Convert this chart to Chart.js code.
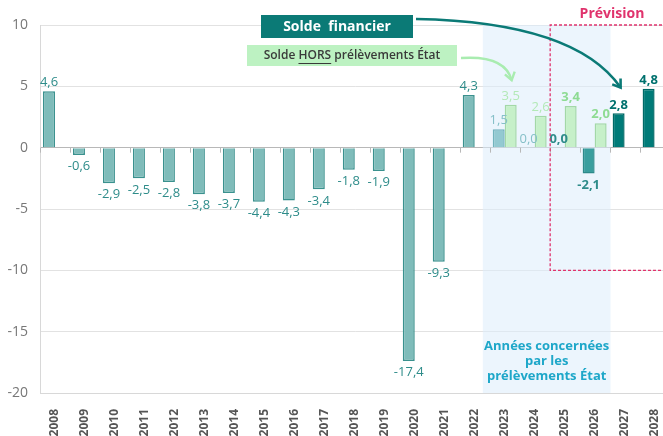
<!DOCTYPE html>
<html>
<head>
<meta charset="utf-8">
<script src="https://cdn.jsdelivr.net/npm/chart.js@4"></script>
<style>
  html, body { margin: 0; padding: 0; background: #fff; overflow: hidden; }
  #wrap { width: 677px; height: 436px; }
</style>
</head>
<body>
<div id="wrap"><canvas id="chart" width="677" height="436"></canvas></div>
<script>
// --- Data ---
const years = ['2008', '2009', '2010', '2011', '2012', '2013', '2014', '2015', '2016', '2017',
    '2018', '2019', '2020', '2021', '2022', '2023', '2024', '2025', '2026', '2027', '2028'];

// Solde financier
const soldeFinancier = [4.6, -0.6, -2.9, -2.5, -2.8, -3.8, -3.7, -4.4, -4.3, -3.4,
    -1.8, -1.9, -17.4, -9.3, 4.3, 1.5, 0.0, 0.0, -2.1, 2.8, 4.8];

// Solde HORS prélèvements État
const soldeHors = [null, null, null, null, null, null, null, null, null, null,
    null, null, null, null, null, 3.5, 2.6, 3.4, 2.0, null, null];

const yTicks = [10, 5, 0, -5, -10, -15, -20];

// --- Styles ---
const FONT = "'Open Sans', sans-serif";
const histFill = '#7fbcba', histBorder = '#3a918e', histLabel = '#2e8c8a';

const mainFill = years.map((y, i) => {
    if (i <= 14) return histFill;
    if (y === '2023' || y === '2024') return '#93c9d1';
    if (y === '2025' || y === '2026') return '#3a9e9e';
    return '#007b78';
});
const mainBorder = years.map((y, i) => {
    if (i <= 14) return histBorder;
    if (y === '2023' || y === '2024') return '#72b3bd';
    if (y === '2025' || y === '2026') return '#2d8a8a';
    return '#006a67';
});
const mainLabelColor = years.map((y, i) => {
    if (i <= 14) return histLabel;
    if (y === '2023' || y === '2024') return '#86c0c8';
    if (y === '2025' || y === '2026') return '#2f8c8a';
    return '#00716e';
});
const mainLabelBold = years.map((y, i) => i >= 17);

const horsLabelColor = years.map(y => (y === '2025' || y === '2026') ? '#8edb93' : '#b3e9b7');
const horsLabelBold = years.map(y => y === '2025' || y === '2026');

function fmt(v) {
    return v.toFixed(1).replace('.', ',');
}

// --- Plugins ---
const backgroundPlugin = {
    id: 'background',
    beforeDatasetsDraw(chart) {
        const { ctx, chartArea, scales: { x, y } } = chart;
        const w = (x.right - x.left) / years.length;
        // shaded zone: years concerned by the State levies
        const x0 = x.left + 14.77 * w;
        const x1 = x.left + 19.03 * w;
        ctx.save();
        ctx.fillStyle = 'rgba(221, 237, 252, 0.55)';
        ctx.fillRect(x0, chartArea.top, x1 - x0, chartArea.bottom - chartArea.top);

        // small ticks on the zero line
        const y0 = y.getPixelForValue(0);
        ctx.strokeStyle = '#b8b8b8';
        ctx.lineWidth = 1;
        ctx.beginPath();
        for (let i = 0; i <= years.length; i++) {
            const px = Math.round(x.left + i * w) + 0.5;
            ctx.moveTo(px, y0);
            ctx.lineTo(px, y0 + 5);
        }
        ctx.stroke();

        ctx.fillStyle = '#1ea7c9';
        ctx.font = 'bold 13px ' + FONT;
        ctx.textAlign = 'center';
        ctx.textBaseline = 'middle';
        const cx = (x0 + x1) / 2;
        const ty = y.getPixelForValue(-16.2);
        ctx.fillText('Années concernées', cx, ty);
        ctx.fillText('par les', cx, ty + 15);
        ctx.fillText('prélèvements État', cx, ty + 30);
        ctx.restore();
    }
};

const labelsPlugin = {
    id: 'valueLabels',
    afterDatasetsDraw(chart) {
        const { ctx } = chart;
        ctx.save();
        ctx.textAlign = 'center';
        chart.data.datasets.forEach((ds, di) => {
            const meta = chart.getDatasetMeta(di);
            meta.data.forEach((bar, i) => {
                const v = ds.data[i];
                if (v === null || v === undefined) return;
                const bold = di === 0 ? mainLabelBold[i] : horsLabelBold[i];
                ctx.fillStyle = di === 0 ? mainLabelColor[i] : horsLabelColor[i];
                ctx.font = (bold ? 'bold ' : '') + '13px ' + FONT;
                if (v >= 0) {
                    ctx.textBaseline = 'bottom';
                    ctx.fillText(fmt(v), bar.x, bar.y - 2);
                } else {
                    ctx.textBaseline = 'top';
                    ctx.fillText(fmt(v), bar.x, bar.y + 5);
                }
            });
        });
        ctx.restore();
    }
};

function arrow(ctx, sx, sy, cx, cy, ex, ey, color, lw) {
    ctx.strokeStyle = color;
    ctx.fillStyle = color;
    ctx.lineWidth = lw;
    ctx.beginPath();
    ctx.moveTo(sx, sy);
    ctx.quadraticCurveTo(cx, cy, ex, ey);
    ctx.stroke();
    const ang = Math.atan2(ey - cy, ex - cx);
    const len = 9;
    ctx.lineWidth = lw;
    ctx.beginPath();
    ctx.moveTo(ex - len * Math.cos(ang - 0.6), ey - len * Math.sin(ang - 0.6));
    ctx.lineTo(ex, ey);
    ctx.lineTo(ex - len * Math.cos(ang + 0.6), ey - len * Math.sin(ang + 0.6));
    ctx.stroke();
}

const annotationPlugin = {
    id: 'annotations',
    afterDraw(chart) {
        const { ctx, chartArea, scales: { x, y } } = chart;
        const w = (x.right - x.left) / years.length;
        ctx.save();

        // Prévision box
        const px0 = x.left + 17 * w + 0.5;
        const pyBottom = y.getPixelForValue(-10);
        ctx.strokeStyle = '#e0336d';
        ctx.lineWidth = 1.3;
        ctx.setLineDash([3, 2]);
        ctx.beginPath();
        ctx.moveTo(chart.width + 5, chartArea.top);
        ctx.lineTo(px0, chartArea.top);
        ctx.lineTo(px0, pyBottom);
        ctx.lineTo(chart.width + 5, pyBottom);
        ctx.stroke();
        ctx.setLineDash([]);
        ctx.fillStyle = '#e0336d';
        ctx.font = 'bold 14px ' + FONT;
        ctx.textAlign = 'center';
        ctx.textBaseline = 'middle';
        ctx.fillText('Prévision', 612, 14);

        // Solde financier label box
        ctx.fillStyle = '#0b7a76';
        ctx.fillRect(261, 15, 152, 23);
        ctx.fillStyle = '#ffffff';
        ctx.font = 'bold 14px ' + FONT;
        ctx.fillText('Solde  financier', 337, 27);

        // Solde HORS label box
        ctx.fillStyle = '#bdf2c2';
        ctx.fillRect(247, 45, 210, 21);
        ctx.fillStyle = '#3a3a3a';
        ctx.font = '600 12px ' + FONT;
        ctx.textAlign = 'left';
        const t1 = 'Solde ', t2 = 'HORS', t3 = ' prélèvements État';
        const wt = ctx.measureText(t1 + t2 + t3).width;
        let tx = 352 - wt / 2;
        ctx.fillText(t1, tx, 56);
        tx += ctx.measureText(t1).width;
        const w2 = ctx.measureText(t2).width;
        ctx.fillText(t2, tx, 56);
        ctx.fillRect(tx, 63, w2, 1);
        tx += w2;
        ctx.fillText(t3, tx, 56);

        // arrows
        const b2027 = chart.getDatasetMeta(0).data[19];
        arrow(ctx, 416, 19, 575, 22, b2027.x + 2, y.getPixelForValue(4.9),
            '#0b7a76', 2.6);
        const g2023 = chart.getDatasetMeta(1).data[15];
        arrow(ctx, 461, 58, 505, 55, g2023.x + 1, y.getPixelForValue(5.5),
            '#a9ecb0', 2.4);

        ctx.restore();
    }
};

// --- Chart ---
new Chart(document.getElementById('chart'), {
    type: 'bar',
    data: {
        labels: years,
        datasets: [{
            label: 'Solde financier',
            data: soldeFinancier,
            backgroundColor: mainFill,
            borderColor: mainBorder,
            borderWidth: 1.5,
            categoryPercentage: 0.8,
            barPercentage: 1.0
        }, {
            label: 'Solde HORS prélèvements État',
            data: soldeHors,
            backgroundColor: '#c6f0c9',
            borderColor: '#a3d8a7',
            borderWidth: 1.5,
            categoryPercentage: 0.8,
            barPercentage: 1.0
        }]
    },
    options: {
        responsive: false,
        animation: false,
        layout: { padding: { top: 25, right: 0, left: 0, bottom: 0 } },
        plugins: {
            legend: { display: false },
            tooltip: { enabled: false }
        },
        scales: {
            x: {
                grid: { display: false },
                border: { color: '#d8d8d8' },
                ticks: {
                    minRotation: 90,
                    maxRotation: 90,
                    padding: 8,
                    color: '#555',
                    font: { family: FONT, size: 12, weight: 'bold' }
                },
                afterFit(scale) { scale.height = 43; }
            },
            y: {
                min: -20,
                max: 10,
                afterBuildTicks(scale) {
                    scale.ticks = yTicks.map(v => ({ value: v }));
                },
                grid: {
                    drawTicks: false,
                    color: ctx => ctx.tick && ctx.tick.value === 0 ? '#b8b8b8' : '#e2e2e2'
                },
                border: { color: '#d8d8d8' },
                ticks: {
                    padding: 12,
                    color: '#777',
                    font: { family: FONT, size: 14 }
                },
                afterFit(scale) { scale.width = 40; }
            }
        }
    },
    plugins: [backgroundPlugin, labelsPlugin, annotationPlugin]
});
</script>
</body>
</html>
